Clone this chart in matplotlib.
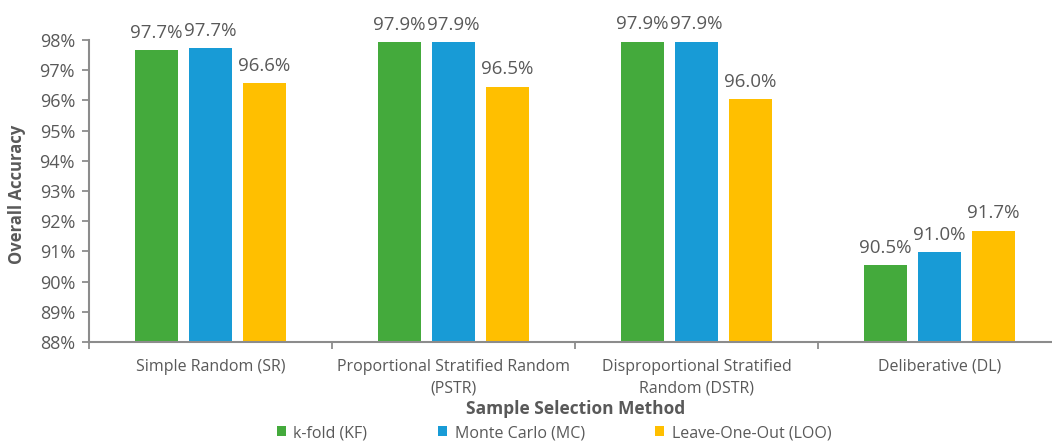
import matplotlib.pyplot as plt
import numpy as np
from matplotlib.ticker import FuncFormatter

plt.rcParams['font.family'] = ['Open Sans', 'DejaVu Sans']

# Overall accuracy (%) per sample selection method and validation scheme
methods = ['Simple Random (SR)', 'Proportional Stratified Random\n(PSTR)',
           'Disproportional Stratified\nRandom (DSTR)', 'Deliberative (DL)']
kfold = [97.67, 97.92, 97.94, 90.54]
monte_carlo = [97.74, 97.92, 97.94, 90.97]
leave_one_out = [96.56, 96.45, 96.03, 91.69]

series_names = ['k-fold (KF)', 'Monte Carlo (MC)', 'Leave-One-Out (LOO)']
colors = ['#44AA3C', '#189BD6', '#FFBF00']
text_gray = '#595959'
axis_gray = '#8c8c8c'

fig = plt.figure(figsize=(10.52, 4.43), dpi=100)
ax = fig.add_axes([89 / 1052, 1 - 342 / 443, 972 / 1052, 302 / 443])

x = np.arange(len(methods))
bar_w = 0.177
step = 0.222
bars = []
for i, (vals, name, c) in enumerate(zip([kfold, monte_carlo, leave_one_out], series_names, colors)):
    b = ax.bar(x + (i - 1) * step, np.array(vals) - 88, bottom=88, width=bar_w,
               color=c, label=name, zorder=2)
    bars.append(b)
    for xi, v in zip(x + (i - 1) * step, vals):
        ax.annotate(f'{v:.1f}%', (xi, v), xytext=(0, 6), textcoords='offset points',
                    ha='center', va='bottom', fontsize=13.5, color=text_gray)

ax.set_ylim(88, 98)
ax.set_xlim(-0.5, len(methods) - 0.5)
ax.set_yticks(np.arange(88, 99, 1))
ax.yaxis.set_major_formatter(FuncFormatter(lambda v, _: f'{v:.0f}%'))

# category labels sit between the boundary ticks
ax.set_xticks(np.arange(-0.5, len(methods), 1))
ax.set_xticklabels([])
ax.set_xticks(x, minor=True)
ax.set_xticklabels(methods, minor=True, fontsize=11.5, color=text_gray, linespacing=1.45)
ax.tick_params(axis='x', which='minor', length=0, pad=12)
ax.tick_params(axis='x', which='major', length=5, width=1.3, color=axis_gray)
ax.tick_params(axis='y', length=5, width=1.3, color=axis_gray, labelsize=13,
               labelcolor=text_gray, pad=5)

for s in ['top', 'right']:
    ax.spines[s].set_visible(False)
for s in ['left', 'bottom']:
    ax.spines[s].set_color(axis_gray)
    ax.spines[s].set_linewidth(1.5)

fig.text(17 / 1052, 1 - 194 / 443, 'Overall Accuracy', rotation=90, ha='center', va='center',
         fontsize=12, fontweight='bold', color=text_gray)
fig.text(576 / 1052, 1 - 409 / 443, 'Sample Selection Method', ha='center', va='center',
         fontsize=12.5, fontweight='bold', color=text_gray)

leg = fig.legend(handles=bars, labels=series_names, loc='center', ncol=3,
                 bbox_to_anchor=(554 / 1052, 1 - 433 / 443), frameon=False,
                 fontsize=11.5, handlelength=0.6, handleheight=0.6, handletextpad=0.45,
                 columnspacing=4.4)
for t in leg.get_texts():
    t.set_color(text_gray)

fig.savefig('out.png', dpi=100)
